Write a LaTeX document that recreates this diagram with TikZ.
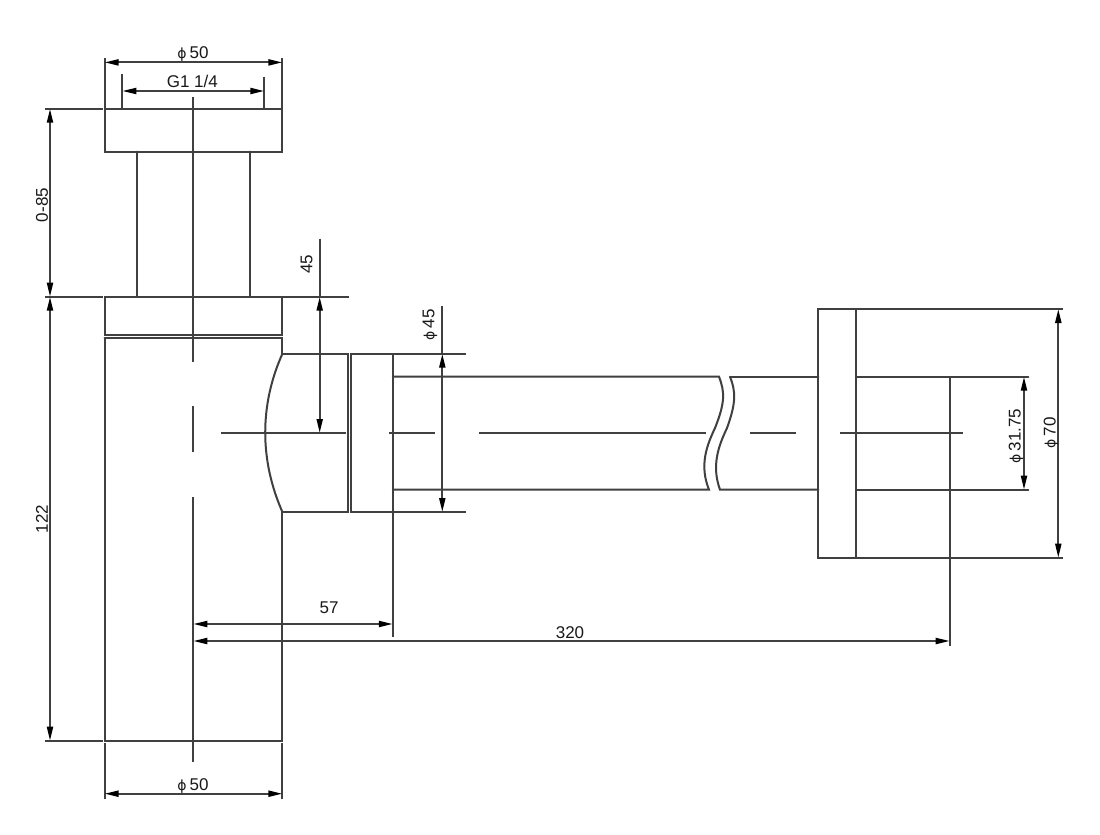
\documentclass[tikz,border=0pt]{standalone}
\usepackage{fontspec}
\setmainfont{Liberation Sans}
\usetikzlibrary{arrows.meta}
\tikzset{
  ol/.style={line width=2pt,line cap=round,black!75},
  dl/.style={line width=2pt,black!75},
  dim/.style={dl,{Triangle[length=14pt,width=6pt,color=black]}-{Triangle[length=14pt,width=6pt,color=black]}},
  lab/.style={inner sep=0pt,font=\fontsize{17}{18}\selectfont,text=black!90},
}
\newcommand{\dia}{{\fontsize{14}{14}\selectfont\raisebox{0.2pt}{\fontspec{DejaVu Sans}ɸ}}\kern3pt}
\begin{document}
\begin{tikzpicture}[x=1pt,y=-1pt]
\useasboundingbox (0,0) rectangle (1100,835);
\fill[white] (0,0) rectangle (1100,835);
% body
\draw[ol] (104.5,108.7) rectangle (282.4,151.7);
\draw[ol] (137.3,151.7) -- (137.3,296.7) (250,151.7) -- (250,296.7);
\draw[ol] (104.5,296.7) -- (282.4,296.7) -- (282.4,334.8) -- (104.5,334.8) -- cycle;
\draw[ol] (104.5,338) -- (104.5,740.7) -- (282.4,740.7) -- (282.4,512);
\draw[ol] (104.5,338) -- (282.4,338) -- (282.4,353.7);
\draw[ol] (282.4,353.7) -- (348,353.7) -- (348,512) -- (282.4,512);
\draw[ol] (282.4,353.7) .. controls (259.5,405) and (259.5,460) .. (282.4,512);
\draw[ol] (351,353.7) rectangle (392.8,512);
\draw[ol] (392.8,376.7) -- (719,376.7) .. controls (725,392) and (725,403) .. (715,428) .. controls (707,445) and (699,465) .. (709,489.7) -- (392.8,489.7);
\draw[ol] (730,376.7) -- (818.3,376.7);
\draw[ol] (730,376.7) .. controls (736,392) and (736,403) .. (727,428) .. controls (719,445) and (711,465) .. (720,489.7) -- (818.3,489.7);
\draw[ol] (818.3,309) rectangle (856.3,557.7);
\draw[ol] (856.3,376.7) -- (1028.3,376.7) (856.3,489.7) -- (1028.3,489.7);
% centre lines
\draw[dl] (193.3,96.7) -- (193.3,361.7) (193.3,406) -- (193.3,452) (193.3,497) -- (193.3,761.7);
\draw[dl] (221,433) -- (346,433) (389,433) -- (435,433) (479,433) -- (706,433) (750,433) -- (796,433) (840,433) -- (963,433);
% extension lines
\draw[dl] (45,108.7) -- (102.5,108.7) (45,296.7) -- (102.5,296.7) (45,740.7) -- (102.5,740.7);
\draw[dl] (104.5,58) -- (104.5,108.7) (282.4,58) -- (282.4,108.7);
\draw[dl] (122.3,74) -- (122.3,108.7) (264.3,76.7) -- (264.3,108.7);
\draw[dl] (104.5,743) -- (104.5,798.5) (282.4,743) -- (282.4,798.5);
\draw[dl] (282.4,296.7) -- (348.5,296.7);
\draw[dl] (319.7,238.5) -- (319.7,296.7);
\draw[dl] (392.8,353.7) -- (465.5,353.7) (392.8,512) -- (465.5,512);
\draw[dl] (442.3,306) -- (442.3,353.7);
\draw[dl] (856.3,309) -- (1062.5,309) (856.3,557.7) -- (1062.5,557.7);
\draw[dl] (949.7,376.7) -- (949.7,645.5);
\draw[dl] (392.8,512) -- (392.8,637);
% dimensions
\draw[dim] (104.5,62.4) -- (282.4,62.4);
\draw[dim] (122.3,91) -- (264.3,91);
\draw[dim] (104.5,793.7) -- (282.4,793.7);
\draw[dim] (50,108.7) -- (50,296.7);
\draw[dim] (50,296.7) -- (50,740.7);
\draw[dim] (319.7,296.7) -- (319.7,433);
\draw[dim] (442.3,353.7) -- (442.3,512);
\draw[dim] (193.3,624) -- (392.8,624);
\draw[dim] (193.3,641) -- (949.7,641);
\draw[dim] (1024,376.7) -- (1024,489.7);
\draw[dim] (1058.3,309) -- (1058.3,557.7);
% labels
\node[lab] (t1) at (193,54) {\dia 50};
\node[lab] (t2) at (192.3,81) {G1 1/4};
\node[lab,rotate=90] (t3) at (42,205) {0-85};
\node[lab,rotate=90] (t4) at (42,519) {122};
\node[lab,rotate=90] (t5) at (306.5,264) {45};
\node[lab,rotate=90] (t6) at (430,325) {\dia 45};
\node[lab] (t7) at (329,608) {57};
\node[lab] (t8) at (570,633) {320};
\node[lab] (t9) at (193,786) {\dia 50};
\node[lab,rotate=90] (t10) at (1016,436) {\dia 31.75};
\node[lab,rotate=90] (t11) at (1051,433) {\dia 70};
\end{tikzpicture}
\end{document}
